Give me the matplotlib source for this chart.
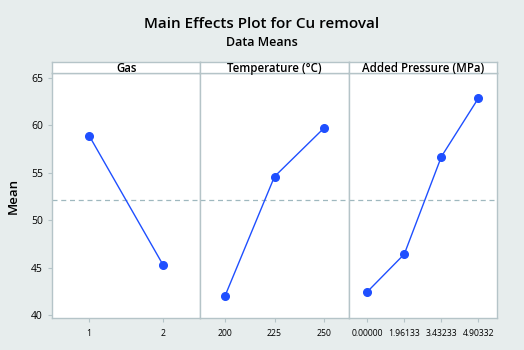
import matplotlib.pyplot as plt
import numpy as np

plt.rcParams['font.family'] = ['Open Sans', 'DejaVu Sans']

panel_titles = ["Gas", "Temperature (°C)", "Added Pressure (MPa)"]
gas_levels = ["1", "2"]
gas_means = [58.9, 45.25]
temp_levels = ["200", "225", "250"]
temp_means = [42.03, 54.58, 59.68]
pres_levels = ["0.00000", "1.96133", "3.43233", "4.90332"]
pres_means = [42.45, 46.42, 56.68, 62.84]
grand_mean = 52.08
yticks = [40, 45, 50, 55, 60, 65]

levels = [gas_levels, temp_levels, pres_levels]
means = [gas_means, temp_means, pres_means]

bg = "#e7eded"
edge = "#b5c4c8"
blue = "#1f4fff"

fig = plt.figure(figsize=(5.24, 3.5), dpi=100)
fig.patch.set_facecolor(bg)

W, H = 524.0, 350.0
left, right = 52, 497
bot, top, strip_top = 318, 73.3, 62
pw = (right - left) / 3.0

fig.text(0.5, 1 - 24 / H, "Main Effects Plot for Cu removal", ha="center", va="center",
         fontsize=11, fontweight="semibold")
fig.text(0.5, 1 - 43 / H, "Data Means", ha="center", va="center", fontsize=9, fontweight="semibold")

for i in range(3):
    x0 = left + i * pw
    ax = fig.add_axes([x0 / W, 1 - bot / H, pw / W, (bot - top) / H])
    ax.set_facecolor("white")
    n = len(levels[i])
    ax.plot(range(n), means[i], color=blue, lw=1, marker="o", ms=5.5, zorder=3)
    ax.axhline(grand_mean, color="#9fb8bf", lw=0.9, ls=(0, (4, 3)), zorder=1)
    ax.set_xlim(-0.5, n - 0.5)
    ax.set_ylim(39.7, 65.45)
    ax.set_xticks(range(n))
    ax.set_xticklabels(levels[i], fontsize=6.2)
    ax.set_yticks(yticks)
    for s in ax.spines.values():
        s.set_color(edge)
        s.set_linewidth(1)
    ax.tick_params(axis="both", colors=edge, labelcolor="black", length=3, width=0.8)
    ax.tick_params(axis="x", labelsize=6.2, pad=5)
    if i == 0:
        ax.set_yticklabels([str(v) for v in yticks], fontsize=7.5)
        ax.set_ylabel("Mean", fontsize=9.5, fontweight="semibold", labelpad=8)
    else:
        ax.tick_params(axis="y", left=False, labelleft=False)

    sax = fig.add_axes([x0 / W, 1 - top / H, pw / W, (top - strip_top) / H])
    sax.set_facecolor("white")
    sax.set_xticks([])
    sax.set_yticks([])
    for s in sax.spines.values():
        s.set_color(edge)
        s.set_linewidth(1)
    sax.text(0.5, 0.45, panel_titles[i], ha="center", va="center", fontsize=8.3,
             fontweight="semibold", transform=sax.transAxes)

fig.savefig("out.png", dpi=100, facecolor=bg)
